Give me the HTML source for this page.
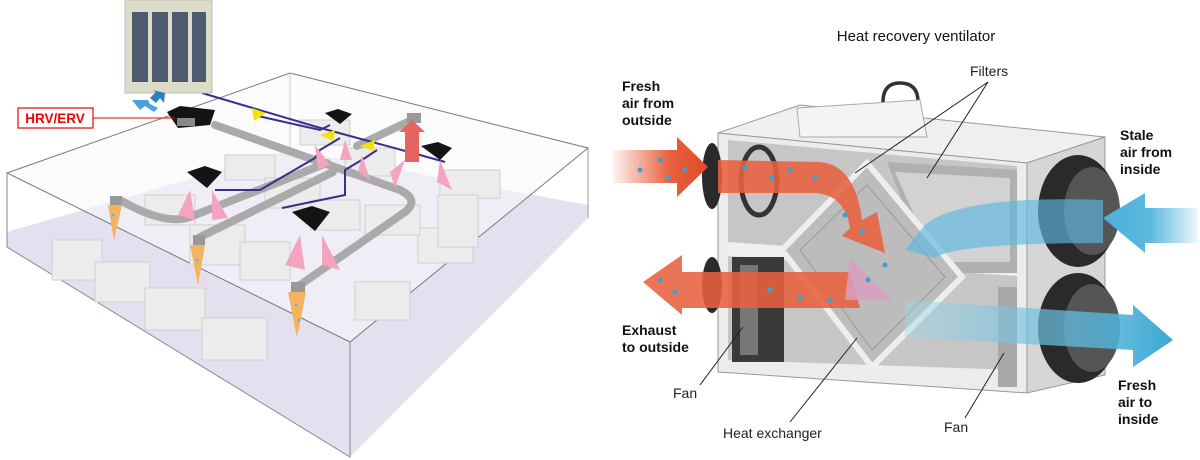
<!DOCTYPE html>
<html><head><meta charset="utf-8"><style>
html,body{margin:0;padding:0;background:#fff;}
svg{display:block;font-family:"Liberation Sans",sans-serif;}
</style></head><body>
<svg width="1200" height="460" viewBox="0 0 1200 460">
<defs>
<linearGradient id="blueOut" x1="0" x2="1"><stop offset="0" stop-color="#9fd8ea" stop-opacity="0.4"/><stop offset="1" stop-color="#3aa7d3"/></linearGradient>
<linearGradient id="blueIn" x1="1" x2="0"><stop offset="0" stop-color="#5cb9de" stop-opacity="0.1"/><stop offset="0.5" stop-color="#5cb9de"/><stop offset="1" stop-color="#4ab0da"/></linearGradient>
<linearGradient id="redIn" x1="0" x2="1"><stop offset="0" stop-color="#e8603f" stop-opacity="0.05"/><stop offset="0.6" stop-color="#e8603f"/><stop offset="1" stop-color="#e04a2a"/></linearGradient>
</defs>
<!-- LEFT: building box -->
<polygon points="7,232 290,150 588,205 588,218 350,457 7,247" fill="#e5e0f0"/>
<polygon points="7,173 290,73 588,148 350,342" fill="#f7f7f9" fill-opacity="0.55" stroke="#777" stroke-width="1"/>
<polyline points="7,173 7,247 350,457 350,342" fill="none" stroke="#888"/>
<line x1="588" y1="148" x2="588" y2="218" stroke="#999"/>
<line x1="290" y1="73" x2="290" y2="150" stroke="#ccc"/>
<g fill="#ececec" stroke="#cfcfcf">
<rect x="52" y="240" width="50" height="40"/><rect x="95" y="262" width="55" height="40"/><rect x="145" y="288" width="60" height="42"/><rect x="202" y="318" width="65" height="42"/>
<rect x="145" y="195" width="50" height="30"/><rect x="190" y="225" width="55" height="40"/><rect x="240" y="242" width="50" height="38"/>
<rect x="225" y="155" width="50" height="25"/><rect x="265" y="178" width="55" height="30"/><rect x="310" y="200" width="50" height="30"/>
<rect x="355" y="282" width="55" height="38"/><rect x="418" y="228" width="55" height="35"/>
<rect x="300" y="120" width="50" height="25"/><rect x="345" y="148" width="50" height="28"/><rect x="365" y="205" width="55" height="30"/>
<rect x="440" y="170" width="60" height="28"/><rect x="438" y="195" width="40" height="52"/>
</g>
<g stroke="#aaa" stroke-width="8" fill="none" stroke-linecap="round">
<path d="M215,125 L400,190 Q420,200 405,212 L300,285"/>
<path d="M327,163 L190,217 Q165,226 120,200 L116,200"/>
<path d="M333,172 L200,237"/>
<path d="M357,146 L414,119"/>
</g>
<g fill="#999"><rect x="110" y="196" width="12" height="10"/><rect x="193" y="235" width="12" height="10"/><rect x="291" y="282" width="14" height="10"/><rect x="407" y="113" width="14" height="10"/></g>
<g stroke="#3a2f8a" stroke-width="2" fill="none">
<path d="M202,93 L317,127 L420,155 L445,162"/>
<path d="M258,116 L320,130 L330,125"/>
<path d="M340,138 L320,150 L315,158 L260,190 L215,190"/>
<path d="M377,150 L365,158 L345,170 L345,195 L282,208"/>
</g>
<g fill="#141414"><polygon points="325,113 338,109 352,114 340,124"/><polygon points="421,146 438,142 452,148 440,160"/><polygon points="187,172 205,166 222,172 207,188"/><polygon points="292,212 312,206 330,212 315,231"/><polygon points="167,112 180,106 215,110 210,125 178,128"/></g>
<rect x="177" y="118" width="18" height="8" fill="#888"/>
<g fill="#f2a4c0"><polygon points="315,145 330,165 318,170"/><polygon points="345,140 352,160 340,160"/><polygon points="362,155 370,180 358,172"/><polygon points="405,160 395,188 390,172"/><polygon points="440,160 452,190 437,182"/><polygon points="190,190 195,220 178,215"/><polygon points="212,190 228,218 212,220"/><polygon points="300,235 305,270 285,265"/><polygon points="322,235 340,270 322,265"/></g>
<g fill="#f3b35f"><polygon points="108,205 122,205 114,240"/><polygon points="190,245 205,245 198,285"/><polygon points="288,292 306,292 297,338"/></g>
<g fill="#4ab8e8"><circle cx="113" cy="215" r="1.3"/><circle cx="197" cy="260" r="1.3"/><circle cx="296" cy="305" r="1.3"/><circle cx="299" cy="320" r="1.3"/></g>
<polygon points="405,162 405,132 399,132 412,120 425,132 419,132 419,162" fill="#e6645f"/>
<polygon points="252,108 266,113 254,121" fill="#f2e400"/><polygon points="320,135 335,130 333,141" fill="#f2e400"/><polygon points="360,146 375,140 373,151" fill="#f2e400"/>
<rect x="125" y="0" width="87" height="93" fill="#dcdcc8" stroke="#bbb"/>
<g fill="#4d5a70"><rect x="132" y="12" width="16" height="70"/><rect x="152" y="12" width="16" height="70"/><rect x="172" y="12" width="16" height="70"/><rect x="192" y="12" width="14" height="70"/></g>
<polygon points="132,100 148,100 150,104 158,108 154,112 145,106 140,110" fill="#4aa3dc"/>
<polygon points="150,98 156,92 153,90 165,93 164,103 160,98 156,103" fill="#2a7fc0"/>
<rect x="18" y="108" width="75" height="20" fill="#fff" stroke="#e00" stroke-width="1.2"/>
<text x="55" y="123" font-size="13.5" font-weight="bold" fill="#e00" text-anchor="middle">HRV/ERV</text>
<line x1="93" y1="118" x2="175" y2="118" stroke="#e00"/>

<!-- RIGHT: HRV -->
<text x="916" y="41" font-size="15" text-anchor="middle" fill="#111">Heat recovery ventilator</text>
<polygon points="718,133 800,105 1105,137 1027,163" fill="#efefef" stroke="#999"/>
<polygon points="718,133 1027,163 1027,393 718,372" fill="#ececec" stroke="#999"/>
<polygon points="1027,163 1105,137 1105,375 1027,393" fill="#d6d6d6" stroke="#999"/>
<path d="M883,102 Q883,83 900,83 Q918,83 918,102" fill="none" stroke="#333" stroke-width="3.5"/>
<polygon points="797,108 920,100 927,137 800,137" fill="#f4f4f4" stroke="#aaa"/>
<polygon points="728,140 1017,166 1017,370 728,360" fill="#c6c6c6"/>
<polygon points="728,242 1017,262 1017,276 728,256" fill="#efefef"/>
<polygon points="887,162 1017,170 1017,273 930,273" fill="#b0b0b0"/>
<polygon points="895,172 1010,178 1010,262 935,262" fill="#d2d2d2"/>
<rect x="732" y="257" width="52" height="105" fill="#3a3a3a"/>
<rect x="740" y="265" width="18" height="90" fill="#777"/>
<rect x="998" y="287" width="19" height="100" fill="#a8a8a8"/>
<polygon points="867,163 962,277 872,367 782,250" fill="#bcbcbc" stroke="#eee" stroke-width="6"/>
<polygon points="867,185 945,277 872,350 800,250" fill="none" stroke="#999"/>
<g fill="#2a2a2a"><ellipse cx="712" cy="176" rx="10" ry="33"/><ellipse cx="712" cy="285" rx="10" ry="28"/><ellipse cx="1078" cy="211" rx="40" ry="56"/><ellipse cx="1078" cy="328" rx="40" ry="55"/></g>
<g fill="#555"><ellipse cx="1092" cy="211" rx="28" ry="44"/><ellipse cx="1092" cy="328" rx="28" ry="44"/></g>
<ellipse cx="759" cy="181" rx="18" ry="34" fill="none" stroke="#333" stroke-width="5"/>
<!-- red flows -->
<path d="M612,150 L677,150 L677,137 L708,167 L677,197 L677,183 L612,183Z" fill="url(#redIn)"/>
<path d="M718,160 L820,162 Q855,165 862,220 L877,212 L885,253 L842,236 L850,228 Q845,195 815,193 L718,193Z" fill="#e8603f" fill-opacity="0.88"/>
<path d="M643,282 L682,255 L682,272 L850,272 L860,308 L682,308 L682,315Z" fill="#e8603f" fill-opacity="0.88"/>
<polygon points="850,258 893,300 845,300" fill="#d8a0c0" fill-opacity="0.85"/>
<!-- blue flows -->
<path d="M1198,208 L1145,208 L1145,193 L1103,218 L1145,253 L1145,243 L1198,243Z" fill="url(#blueIn)"/>
<path d="M1103,200 Q960,195 925,225 L905,250 L935,258 Q955,243 1103,243Z" fill="#5cb9de" fill-opacity="0.65"/>
<path d="M905,300 L1133,315 L1133,305 L1173,340 L1133,367 L1133,350 L905,337Z" fill="url(#blueOut)"/>
<g fill="#3aa0d6"><circle cx="640" cy="170" r="2.5"/><circle cx="660" cy="160" r="2.5"/><circle cx="668" cy="178" r="2.5"/><circle cx="685" cy="170" r="2.5"/><circle cx="745" cy="168" r="2.5"/><circle cx="772" cy="178" r="2.5"/><circle cx="790" cy="170" r="2.5"/><circle cx="815" cy="178" r="2.5"/><circle cx="845" cy="215" r="2.5"/><circle cx="862" cy="232" r="2.5"/><circle cx="885" cy="265" r="2.5"/><circle cx="868" cy="280" r="2.5"/><circle cx="660" cy="280" r="2.5"/><circle cx="675" cy="292" r="2.5"/><circle cx="770" cy="290" r="2.5"/><circle cx="800" cy="298" r="2.5"/><circle cx="830" cy="300" r="2.5"/></g>
<g font-size="14" fill="#111" font-weight="bold">
<text x="622" y="91">Fresh</text><text x="622" y="108">air from</text><text x="622" y="125">outside</text>
<text x="1120" y="140">Stale</text><text x="1120" y="157">air from</text><text x="1120" y="174">inside</text>
<text x="622" y="335">Exhaust</text><text x="622" y="352">to outside</text>
<text x="1118" y="390">Fresh</text><text x="1118" y="407">air to</text><text x="1118" y="424">inside</text>
</g>
<g font-size="14" fill="#222">
<text x="970" y="76">Filters</text><text x="673" y="398">Fan</text><text x="723" y="438">Heat exchanger</text><text x="944" y="432">Fan</text>
</g>
<g stroke="#222" stroke-width="1" fill="none">
<line x1="988" y1="82" x2="855" y2="173"/><line x1="988" y1="82" x2="927" y2="178"/>
<line x1="700" y1="385" x2="743" y2="327"/><line x1="790" y1="422" x2="857" y2="338"/><line x1="965" y1="418" x2="1004" y2="353"/>
</g>
</svg>
</body></html>
